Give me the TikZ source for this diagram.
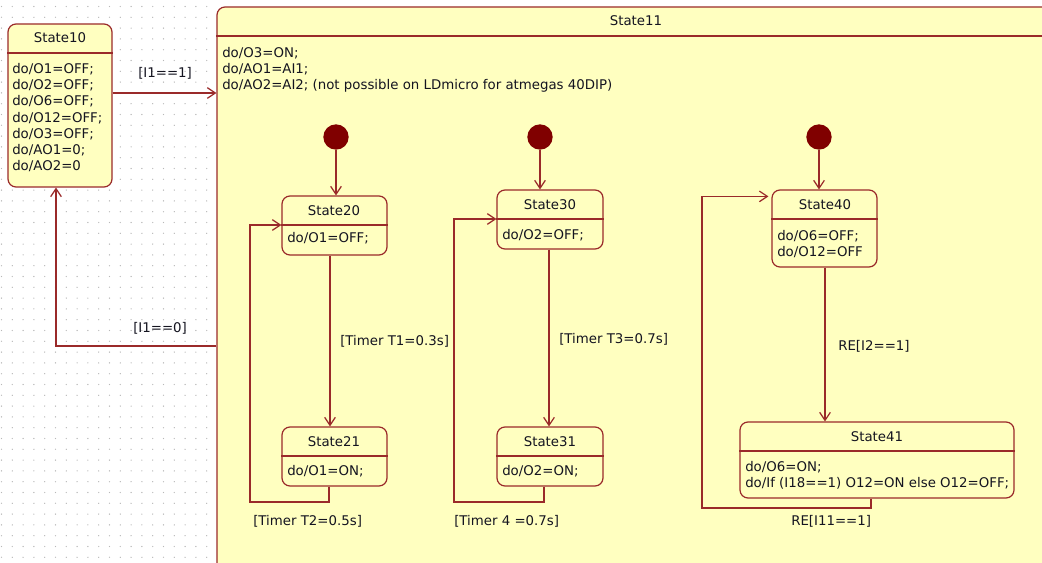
\documentclass[tikz,border=0pt]{standalone}
\usepackage{fontspec}
\setmainfont{DejaVu Sans}
\usepackage{tikz}
\usetikzlibrary{arrows.meta,positioning,fit,calc}
\definecolor{StateLine}{HTML}{9A2A2A}
\definecolor{StateFill}{HTML}{FFFFC0}
\definecolor{InitFill}{HTML}{800000}
\definecolor{StateText}{HTML}{141420}
\definecolor{GridDot}{HTML}{B8B8B8}

\tikzset{
  statebox/.style={draw=StateLine, fill=StateFill, line width=0.9pt, rounded corners=6pt, inner sep=0pt},
  statename/.style={text=StateText, inner sep=0pt},
  stateact/.style={text=StateText, align=left, anchor=north west, inner sep=0pt},
  headline/.style={draw=StateLine, line width=0.9pt},
  trans/.style={draw=StateLine, line width=0.9pt, -{Straight Barb[length=6pt,width=8pt]}},
  guard/.style={text=StateText, inner sep=0pt, anchor=west},
  initial/.style={circle, fill=InitFill, minimum size=19pt, inner sep=0pt}
}

\begin{document}
\begin{tikzpicture}[x=0.75pt, y=-0.75pt, font=\fontsize{10}{12.2}\selectfont]
  \useasboundingbox (0,0) rectangle (1042,563);
  \clip (0,0) rectangle (1042,563);
  \fill[white] (0,0) rectangle (1042,563);
  % grid dots
  \foreach \gx in {0,...,19}{
    \foreach \gy in {0,...,51}{
      \fill[GridDot] (1.5+10.8*\gx, 6.5+10.8*\gy) circle (0.5pt);
    }
  }

  % outer states
  \node[statebox, fit={(8,24) (112,187)}] (s10) {};
  \node[statename] (s10n) at (60,38) {State10};
  \draw[headline] (s10.west |- 0,53) -- (s10.east |- 0,53);
  \node[stateact] (s10a) at (12,63) {do/O1=OFF;\\do/O2=OFF;\\do/O6=OFF;\\do/O12=OFF;\\do/O3=OFF;\\do/AO1=0;\\do/AO2=0};

  \node[statebox, fit={(217,7) (1062,590)}] (s11) {};
  \node[statename] (s11n) at (636,21) {State11};
  \draw[headline] (s11.west |- 0,36) -- (s11.east |- 0,36);
  \node[stateact] (s11a) at (222,47) {do/O3=ON;\\do/AO1=AI1;\\do/AO2=AI2; (not possible on LDmicro for atmegas 40DIP)};

  \draw[trans] (s10.east |- 0,93) -- (s11.west |- 0,93);
  \node[guard] (g1011) at (138,73) {[I1==1]};
  \draw[trans] (s11.west |- 0,346) -| (s10.south -| 56,0);
  \node[guard] (g1110) at (133,328) {[I1==0]};

  % region 2
  \node[initial] (i20) at (336,137) {};
  \node[statebox, fit={(282,196) (387,255)}] (s20) {};
  \node[statename] (s20n) at (334,211) {State20};
  \draw[headline] (s20.west |- 0,225) -- (s20.east |- 0,225);
  \node[stateact] (s20a) at (287,232) {do/O1=OFF;};
  \node[statebox, fit={(282,427) (387,486)}] (s21) {};
  \node[statename] (s21n) at (334,442) {State21};
  \draw[headline] (s21.west |- 0,456) -- (s21.east |- 0,456);
  \node[stateact] (s21a) at (287,465) {do/O1=ON;};
  \draw[trans] (i20) -- (i20 |- s20.north);
  \draw[trans] (s20.south -| 330,0) -- (s21.north -| 330,0);
  \node[guard] (g2021) at (340,341) {[Timer T1=0.3s]};
  \draw[trans] (s21.south -| 329,0) |- (250,502) |- (s20.west |- 0,225);
  \node[guard] (g2120) at (253,521) {[Timer T2=0.5s]};

  % region 3
  \node[initial] (i30) at (540,137) {};
  \node[statebox, fit={(497,190) (603,249)}] (s30) {};
  \node[statename] (s30n) at (550,205) {State30};
  \draw[headline] (s30.west |- 0,219) -- (s30.east |- 0,219);
  \node[stateact] (s30a) at (502,229) {do/O2=OFF;};
  \node[statebox, fit={(497,427) (603,486)}] (s31) {};
  \node[statename] (s31n) at (550,442) {State31};
  \draw[headline] (s31.west |- 0,456) -- (s31.east |- 0,456);
  \node[stateact] (s31a) at (502,465) {do/O2=ON;};
  \draw[trans] (i30) -- (i30 |- s30.north);
  \draw[trans] (s30.south -| 549,0) -- (s31.north -| 549,0);
  \node[guard] (g3031) at (559,339) {[Timer T3=0.7s]};
  \draw[trans] (s31.south -| 544,0) |- (454,502) |- (s30.west |- 0,219);
  \node[guard] (g3130) at (454,521) {[Timer 4 =0.7s]};

  % region 4
  \node[initial] (i40) at (819,137) {};
  \node[statebox, fit={(772,190) (877,267)}] (s40) {};
  \node[statename] (s40n) at (825,205) {State40};
  \draw[headline] (s40.west |- 0,219) -- (s40.east |- 0,219);
  \node[stateact] (s40a) at (777,230) {do/O6=OFF;\\do/O12=OFF};
  \node[statebox, fit={(740,422) (1014,498)}] (s41) {};
  \node[statename] (s41n) at (877,437) {State41};
  \draw[headline] (s41.west |- 0,451) -- (s41.east |- 0,451);
  \node[stateact] (s41a) at (745,461) {do/O6=ON;\\do/If (I18==1) O12=ON else O12=OFF;};
  \draw[trans] (i40) -- (i40 |- s40.north);
  \draw[trans] (s40.south -| 825,0) -- (s41.north -| 825,0);
  \node[guard] (g4041) at (838,346) {RE[I2==1]};
  \draw[trans] (s41.south -| 871,0) |- (702,508) |- ([shift={(-3,7)}]s40.north west);
  \node[guard] (g4140) at (791,521) {RE[I11==1]};
\end{tikzpicture}
\end{document}
